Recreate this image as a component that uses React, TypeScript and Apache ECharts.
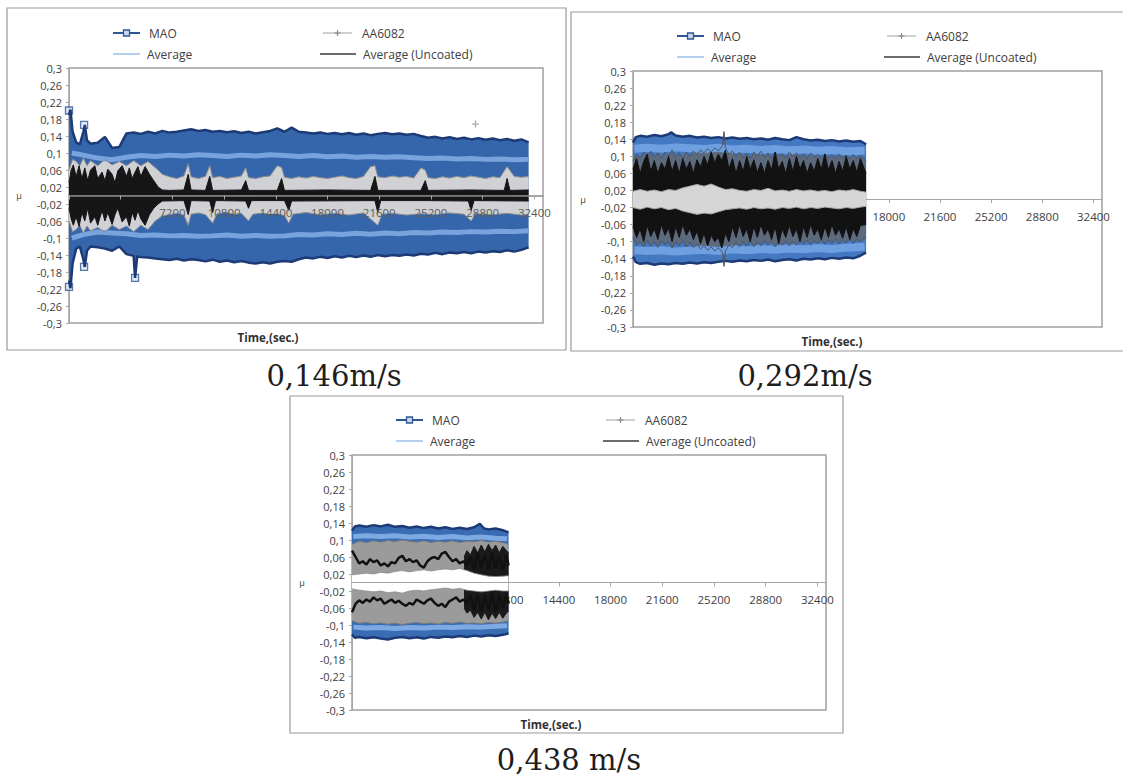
import React, { useEffect, useRef } from "react";
import * as echarts from "echarts";

// ---------------- texts & ticks ----------------
const CAPTIONS = ["0,146m/s", "0,292m/s", "0,438 m/s"];
const LEGEND_NAMES = ["MAO", "AA6082", "Average", "Average (Uncoated)"];
const X_TITLE = "Time,(sec.)";
const Y_TITLE = "μ";
const X_TICKS = [0, 3600, 7200, 10800, 14400, 18000, 21600, 25200, 28800, 32400];
const X_LABELS = [3600, 7200, 10800, 14400, 18000, 21600, 25200, 28800, 32400];
const X_LABELS_TL = [7200, 10800, 14400, 18000, 21600, 25200, 28800, 32400];
const Y_TICKS = [-0.3, -0.26, -0.22, -0.18, -0.14, -0.1, -0.06, -0.02, 0.02, 0.06, 0.1, 0.14, 0.18, 0.22, 0.26, 0.3];

// ---------------- 0,146 m/s (top-left) ----------------
const TL_MAO_UP = [[0,0.19],[100,0.202],[250,0.15],[500,0.125],[750,0.12],[1000,0.15],[1100,0.166],[1250,0.13],[1500,0.122],[2000,0.124],[2500,0.138],[3000,0.112],[3500,0.114],[4000,0.146],[4500,0.148],[5000,0.145],[5500,0.15],[6000,0.146],[6500,0.152],[7000,0.148],[7500,0.15],[8000,0.153],[8500,0.156],[9000,0.152],[9500,0.154],[10000,0.15],[10500,0.152],[11000,0.149],[11500,0.151],[12000,0.147],[12500,0.15],[13000,0.146],[13500,0.149],[14000,0.152],[14500,0.158],[15000,0.15],[15500,0.16],[16000,0.15],[16500,0.148],[17000,0.146],[17500,0.148],[18000,0.145],[18500,0.147],[19000,0.144],[19500,0.147],[20000,0.143],[20500,0.146],[21000,0.142],[21500,0.145],[22000,0.147],[22500,0.144],[23000,0.146],[23500,0.143],[24000,0.145],[24500,0.14],[25000,0.136],[25500,0.138],[26000,0.134],[26500,0.137],[27000,0.133],[27500,0.136],[28000,0.132],[28500,0.135],[29000,0.131],[29500,0.134],[30000,0.13],[30500,0.133],[31000,0.129],[31500,0.132],[32000,0.125]];
const TL_MAO_DN = [[0,-0.2],[100,-0.218],[250,-0.16],[500,-0.125],[750,-0.12],[1000,-0.15],[1100,-0.168],[1250,-0.13],[1500,-0.12],[2000,-0.122],[2500,-0.125],[3000,-0.13],[3500,-0.12],[4000,-0.138],[4500,-0.142],[4600,-0.194],[4750,-0.143],[5000,-0.145],[5500,-0.146],[6000,-0.148],[6500,-0.15],[7000,-0.152],[7500,-0.149],[8000,-0.153],[8500,-0.15],[9000,-0.152],[9500,-0.155],[10000,-0.151],[10500,-0.156],[11000,-0.153],[11500,-0.157],[12000,-0.154],[12500,-0.158],[13000,-0.16],[13500,-0.157],[14000,-0.16],[14500,-0.156],[15000,-0.154],[15500,-0.156],[16000,-0.15],[16500,-0.146],[17000,-0.148],[17500,-0.144],[18000,-0.147],[18500,-0.143],[19000,-0.146],[19500,-0.142],[20000,-0.145],[20500,-0.141],[21000,-0.144],[21500,-0.14],[22000,-0.143],[22500,-0.14],[23000,-0.142],[23500,-0.139],[24000,-0.141],[24500,-0.137],[25000,-0.139],[25500,-0.135],[26000,-0.138],[26500,-0.134],[27000,-0.136],[27500,-0.133],[28000,-0.136],[28500,-0.132],[29000,-0.134],[29500,-0.131],[30000,-0.133],[30500,-0.129],[31000,-0.132],[31500,-0.128],[32000,-0.122]];
const TL_AVG_UP = [[200,0.1],[1000,0.095],[2000,0.088],[3000,0.084],[4000,0.09],[5000,0.094],[6000,0.092],[7000,0.095],[8000,0.093],[9000,0.096],[10000,0.094],[11000,0.092],[12000,0.095],[13000,0.093],[14000,0.096],[15000,0.094],[16000,0.092],[17000,0.094],[18000,0.091],[19000,0.093],[20000,0.09],[21000,0.092],[22000,0.09],[23000,0.091],[24000,0.089],[25000,0.087],[26000,0.088],[27000,0.086],[28000,0.087],[29000,0.085],[30000,0.086],[31000,0.084],[32000,0.085]];
const TL_AVG_DN = [[200,-0.1],[1000,-0.092],[2000,-0.086],[3000,-0.088],[4000,-0.09],[5000,-0.094],[6000,-0.093],[7000,-0.095],[8000,-0.094],[9000,-0.096],[10000,-0.095],[11000,-0.093],[12000,-0.096],[13000,-0.094],[14000,-0.096],[15000,-0.095],[16000,-0.092],[17000,-0.093],[18000,-0.09],[19000,-0.092],[20000,-0.089],[21000,-0.091],[22000,-0.088],[23000,-0.09],[24000,-0.087],[25000,-0.088],[26000,-0.086],[27000,-0.087],[28000,-0.085],[29000,-0.086],[30000,-0.084],[31000,-0.085],[32000,-0.083]];
const TL_AA_UP = [[0,0.06],[250,0.085],[500,0.08],[750,0.07],[1000,0.088],[1250,0.07],[1500,0.082],[2000,0.07],[2500,0.085],[3000,0.072],[3500,0.08],[4000,0.07],[4500,0.082],[5000,0.07],[5500,0.08],[6000,0.066],[6500,0.05],[7000,0.044],[7500,0.04],[8000,0.046],[8300,0.075],[8500,0.044],[9000,0.04],[9500,0.045],[9800,0.07],[10000,0.042],[10500,0.045],[11000,0.04],[11500,0.043],[12000,0.046],[12300,0.065],[12500,0.042],[13000,0.04],[13500,0.044],[14000,0.046],[14500,0.07],[14800,0.066],[15000,0.043],[15500,0.04],[16000,0.044],[16500,0.041],[17000,0.045],[17500,0.042],[18000,0.04],[18500,0.043],[19000,0.046],[19500,0.042],[20000,0.04],[20500,0.045],[21000,0.068],[21300,0.07],[21500,0.044],[22000,0.042],[22500,0.046],[23000,0.043],[23500,0.045],[24000,0.041],[24500,0.065],[24800,0.06],[25000,0.042],[25500,0.04],[26000,0.044],[26500,0.041],[27000,0.045],[27500,0.042],[28000,0.046],[28500,0.043],[29000,0.04],[29500,0.044],[30000,0.042],[30500,0.068],[31000,0.045],[31500,0.043],[32000,0.045]];
const TL_AA_DN = [[0,-0.06],[250,-0.085],[500,-0.08],[750,-0.07],[1000,-0.088],[1250,-0.072],[1500,-0.083],[2000,-0.075],[2500,-0.086],[3000,-0.07],[3500,-0.08],[4000,-0.072],[4500,-0.085],[5000,-0.07],[5500,-0.08],[6000,-0.06],[6500,-0.048],[7000,-0.045],[7500,-0.042],[8000,-0.046],[8300,-0.07],[8500,-0.044],[9000,-0.041],[9500,-0.045],[10000,-0.065],[10300,-0.043],[11000,-0.04],[11500,-0.044],[12000,-0.042],[12500,-0.06],[12800,-0.044],[13500,-0.041],[14000,-0.045],[14500,-0.043],[15000,-0.047],[15300,-0.065],[15600,-0.044],[16500,-0.04],[17500,-0.045],[18500,-0.042],[19500,-0.046],[20500,-0.041],[21500,-0.07],[21800,-0.044],[22500,-0.042],[23500,-0.046],[24500,-0.043],[25500,-0.045],[26500,-0.041],[27500,-0.044],[28000,-0.06],[28300,-0.043],[29500,-0.045],[30500,-0.042],[31500,-0.046],[32000,-0.045]];
const TL_UNC_UP = [[0,0.03],[150,0.06],[300,0.072],[500,0.045],[700,0.07],[900,0.04],[1100,0.065],[1300,0.035],[1500,0.06],[1800,0.07],[2000,0.04],[2300,0.055],[2500,0.035],[2700,0.062],[3000,0.05],[3200,0.03],[3400,0.058],[3700,0.07],[4000,0.045],[4200,0.065],[4400,0.04],[4600,0.055],[4800,0.068],[5000,0.045],[5300,0.068],[5600,0.05],[5900,0.035],[6200,0.02],[6500,0.013],[7000,0.012],[8000,0.013],[8300,0.05],[8500,0.013],[9500,0.012],[9800,0.045],[10000,0.012],[12000,0.013],[12300,0.035],[12500,0.012],[14500,0.012],[14800,0.04],[15000,0.012],[18000,0.013],[21000,0.012],[21300,0.045],[21500,0.012],[24500,0.012],[24800,0.035],[25000,0.012],[28000,0.013],[30300,0.012],[30500,0.04],[30700,0.012],[32000,0.013]];
const TL_UNC_DN = [[0,-0.03],[150,-0.055],[300,-0.07],[500,-0.05],[700,-0.073],[900,-0.04],[1100,-0.06],[1300,-0.03],[1500,-0.065],[1800,-0.05],[2000,-0.07],[2300,-0.035],[2500,-0.06],[2700,-0.04],[3000,-0.068],[3200,-0.045],[3400,-0.03],[3700,-0.062],[4000,-0.05],[4200,-0.072],[4400,-0.04],[4600,-0.058],[4800,-0.035],[5000,-0.055],[5300,-0.07],[5600,-0.045],[5900,-0.03],[6200,-0.02],[6500,-0.013],[8000,-0.012],[8300,-0.045],[8500,-0.012],[9800,-0.013],[10000,-0.04],[10200,-0.012],[12300,-0.013],[12500,-0.03],[12700,-0.012],[15000,-0.012],[15300,-0.035],[15500,-0.013],[21300,-0.012],[21500,-0.04],[21700,-0.012],[25000,-0.012],[27800,-0.013],[28000,-0.035],[28200,-0.012],[32000,-0.013]];
const TL_MAO_MARKS = [[0,0.2],[0,-0.215],[1050,0.166],[1050,-0.168],[4600,-0.194]];
const TL_AA_MARKS = [[28300,0.168]];

// ---------------- 0,292 m/s (top-right) ----------------
const TR_MAO_UP = [[0,0.132],[200,0.145],[500,0.148],[1000,0.146],[1500,0.15],[2000,0.147],[2500,0.152],[2700,0.156],[3000,0.149],[3500,0.146],[4000,0.148],[4500,0.144],[5000,0.146],[5500,0.143],[6000,0.145],[6500,0.142],[7000,0.144],[7500,0.141],[8000,0.143],[8500,0.14],[9000,0.142],[9500,0.139],[10000,0.143],[10500,0.14],[11000,0.138],[11500,0.145],[12000,0.14],[12500,0.137],[13000,0.139],[13500,0.136],[14000,0.138],[14500,0.135],[15000,0.137],[15500,0.134],[16000,0.136],[16400,0.128]];
const TR_MAO_DN = [[0,-0.135],[200,-0.148],[500,-0.152],[1000,-0.15],[1500,-0.154],[2000,-0.151],[2500,-0.153],[3000,-0.15],[3500,-0.152],[4000,-0.149],[4500,-0.151],[5000,-0.148],[5500,-0.15],[6000,-0.147],[6500,-0.145],[7000,-0.147],[7500,-0.144],[8000,-0.146],[8500,-0.143],[9000,-0.145],[9500,-0.142],[10000,-0.146],[10500,-0.143],[11000,-0.141],[11500,-0.144],[12000,-0.14],[12500,-0.142],[13000,-0.139],[13500,-0.141],[14000,-0.138],[14500,-0.14],[15000,-0.137],[15500,-0.139],[16000,-0.133],[16400,-0.125]];
const TR_AVG_UP = [[100,0.118],[1000,0.12],[2000,0.118],[3000,0.121],[4000,0.119],[5000,0.117],[6000,0.12],[7000,0.116],[8000,0.118],[9000,0.115],[10000,0.117],[11000,0.114],[12000,0.116],[13000,0.113],[14000,0.115],[15000,0.112],[16300,0.113]];
const TR_AVG_DN = [[100,-0.12],[1000,-0.122],[2000,-0.12],[3000,-0.123],[4000,-0.121],[5000,-0.119],[6000,-0.122],[7000,-0.118],[8000,-0.12],[9000,-0.117],[10000,-0.119],[11000,-0.116],[12000,-0.118],[13000,-0.115],[14000,-0.117],[15000,-0.114],[16300,-0.112]];
const TR_AA_UP = [[0,0.09],[250,0.105],[500,0.095],[750,0.11],[1000,0.1],[1250,0.112],[1500,0.098],[1750,0.108],[2000,0.095],[2250,0.11],[2500,0.1],[2750,0.115],[3000,0.098],[3250,0.108],[3500,0.096],[3750,0.11],[4000,0.1],[4250,0.112],[4500,0.104],[4750,0.115],[5000,0.108],[5250,0.118],[5500,0.11],[5750,0.12],[6000,0.112],[6300,0.125],[6400,0.158],[6500,0.12],[6750,0.105],[7000,0.112],[7250,0.1],[7500,0.11],[7750,0.097],[8000,0.108],[8250,0.095],[8500,0.11],[8750,0.1],[9000,0.112],[9250,0.098],[9500,0.108],[9750,0.095],[10000,0.11],[10250,0.1],[10500,0.106],[10750,0.096],[11000,0.11],[11250,0.1],[11500,0.108],[11750,0.097],[12000,0.106],[12250,0.095],[12500,0.108],[12750,0.098],[13000,0.105],[13250,0.094],[13500,0.106],[13750,0.096],[14000,0.104],[14250,0.094],[14500,0.105],[14750,0.095],[15000,0.103],[15250,0.094],[15500,0.104],[15750,0.095],[16000,0.102],[16400,0.09]];
const TR_AA_DN = [[0,-0.09],[250,-0.108],[500,-0.1],[750,-0.112],[1000,-0.098],[1250,-0.11],[1500,-0.1],[1750,-0.113],[2000,-0.097],[2250,-0.108],[2500,-0.1],[2750,-0.115],[3000,-0.1],[3250,-0.11],[3500,-0.098],[3750,-0.112],[4000,-0.102],[4250,-0.114],[4500,-0.106],[4750,-0.117],[5000,-0.11],[5250,-0.12],[5500,-0.112],[5750,-0.122],[6000,-0.114],[6300,-0.125],[6400,-0.158],[6500,-0.122],[6750,-0.108],[7000,-0.114],[7250,-0.102],[7500,-0.112],[7750,-0.1],[8000,-0.11],[8250,-0.098],[8500,-0.112],[8750,-0.1],[9000,-0.11],[9250,-0.098],[9500,-0.108],[9750,-0.097],[10000,-0.112],[10250,-0.1],[10500,-0.108],[10750,-0.098],[11000,-0.11],[11250,-0.1],[11500,-0.108],[11750,-0.097],[12000,-0.106],[12250,-0.096],[12500,-0.108],[12750,-0.098],[13000,-0.105],[13250,-0.095],[13500,-0.106],[13750,-0.096],[14000,-0.104],[14250,-0.094],[14500,-0.105],[14750,-0.095],[15000,-0.103],[15250,-0.094],[15500,-0.104],[15750,-0.095],[16000,-0.1],[16400,-0.09]];
const TR_UNC_UP = [[0,0.07],[250,0.095],[500,0.06],[750,0.088],[1000,0.105],[1250,0.065],[1500,0.09],[1750,0.06],[2000,0.085],[2250,0.07],[2500,0.1],[2750,0.065],[3000,0.09],[3250,0.06],[3500,0.095],[3750,0.07],[4000,0.088],[4250,0.06],[4500,0.092],[4750,0.075],[5000,0.1],[5250,0.08],[5500,0.11],[5750,0.085],[6000,0.105],[6250,0.09],[6500,0.115],[6750,0.07],[7000,0.095],[7250,0.06],[7500,0.09],[7750,0.065],[8000,0.1],[8250,0.07],[8500,0.092],[8750,0.062],[9000,0.085],[9250,0.06],[9500,0.09],[9750,0.068],[10000,0.11],[10250,0.07],[10500,0.088],[10750,0.06],[11000,0.095],[11250,0.065],[11500,0.1],[11750,0.07],[12000,0.09],[12250,0.06],[12500,0.085],[12750,0.065],[13000,0.095],[13250,0.07],[13500,0.105],[13750,0.068],[14000,0.09],[14250,0.06],[14500,0.088],[14750,0.065],[15000,0.1],[15250,0.07],[15500,0.09],[15750,0.062],[16000,0.095],[16400,0.06]];
const TR_UNC_DN = [[0,-0.065],[250,-0.09],[500,-0.07],[750,-0.1],[1000,-0.062],[1250,-0.088],[1500,-0.07],[1750,-0.095],[2000,-0.06],[2250,-0.085],[2500,-0.068],[2750,-0.1],[3000,-0.065],[3250,-0.09],[3500,-0.06],[3750,-0.085],[4000,-0.07],[4250,-0.095],[4500,-0.075],[4750,-0.105],[5000,-0.08],[5250,-0.11],[5500,-0.085],[5750,-0.1],[6000,-0.09],[6250,-0.115],[6500,-0.08],[6750,-0.1],[7000,-0.065],[7250,-0.09],[7500,-0.06],[7750,-0.088],[8000,-0.07],[8250,-0.1],[8500,-0.065],[8750,-0.09],[9000,-0.06],[9250,-0.085],[9500,-0.07],[9750,-0.095],[10000,-0.065],[10250,-0.105],[10500,-0.07],[10750,-0.09],[11000,-0.062],[11250,-0.088],[11500,-0.07],[11750,-0.1],[12000,-0.065],[12250,-0.09],[12500,-0.06],[12750,-0.085],[13000,-0.07],[13250,-0.095],[13500,-0.065],[13750,-0.09],[14000,-0.06],[14250,-0.085],[14500,-0.07],[14750,-0.092],[15000,-0.065],[15250,-0.095],[15500,-0.07],[15750,-0.088],[16000,-0.062],[16400,-0.06]];
const TR_CORE_UP = [[0,0.018],[500,0.022],[1000,0.018],[1500,0.021],[2000,0.017],[2500,0.022],[3000,0.02],[3500,0.026],[4000,0.03],[4500,0.034],[5000,0.03],[5500,0.035],[6000,0.028],[6500,0.022],[7000,0.024],[7500,0.02],[8000,0.018],[8500,0.022],[9000,0.02],[9500,0.025],[10000,0.019],[10500,0.021],[11000,0.018],[11500,0.022],[12000,0.019],[12500,0.021],[13000,0.018],[13500,0.02],[14000,0.017],[14500,0.021],[15000,0.019],[15500,0.022],[16000,0.018],[16400,0.016]];
const TR_CORE_DN = [[0,-0.02],[500,-0.024],[1000,-0.019],[1500,-0.023],[2000,-0.02],[2500,-0.025],[3000,-0.022],[3500,-0.028],[4000,-0.032],[4500,-0.036],[5000,-0.033],[5500,-0.035],[6000,-0.03],[6500,-0.025],[7000,-0.023],[7500,-0.021],[8000,-0.024],[8500,-0.02],[9000,-0.023],[9500,-0.021],[10000,-0.024],[10500,-0.02],[11000,-0.022],[11500,-0.019],[12000,-0.023],[12500,-0.02],[13000,-0.022],[13500,-0.019],[14000,-0.021],[14500,-0.023],[15000,-0.02],[15500,-0.022],[16000,-0.019],[16400,-0.017]];

// ---------------- 0,438 m/s (bottom) ----------------
const B_MAO_UP = [[0,0.122],[200,0.132],[500,0.134],[1000,0.131],[1500,0.135],[2000,0.132],[2500,0.136],[3000,0.131],[3500,0.133],[4000,0.129],[4500,0.132],[5000,0.128],[5500,0.131],[6000,0.127],[6500,0.13],[7000,0.126],[7500,0.129],[8000,0.126],[8500,0.13],[8900,0.138],[9200,0.127],[9500,0.125],[10000,0.127],[10500,0.123],[10900,0.118]];
const B_MAO_DN = [[0,-0.122],[200,-0.13],[500,-0.128],[1000,-0.131],[1500,-0.129],[2000,-0.132],[2500,-0.134],[3000,-0.13],[3500,-0.128],[4000,-0.131],[4500,-0.129],[5000,-0.132],[5500,-0.128],[6000,-0.13],[6500,-0.127],[7000,-0.129],[7500,-0.126],[8000,-0.128],[8500,-0.125],[9000,-0.127],[9500,-0.124],[10000,-0.126],[10500,-0.123],[10900,-0.12]];
const B_AVG_UP = [[100,0.108],[1000,0.11],[2000,0.108],[3000,0.11],[4000,0.107],[5000,0.109],[6000,0.106],[7000,0.108],[8000,0.105],[9000,0.107],[10000,0.104],[10800,0.103]];
const B_AVG_DN = [[100,-0.105],[1000,-0.107],[2000,-0.106],[3000,-0.108],[4000,-0.106],[5000,-0.107],[6000,-0.105],[7000,-0.106],[8000,-0.104],[9000,-0.105],[10000,-0.103],[10800,-0.102]];
const B_AA_TIME = [0,500,1000,1500,2000,2500,3000,3500,4000,4500,5000,5500,6000,6500,7000,7500,8000,8500,9000,9500,10000,10500,10900];
const B_AA_OUT_UP = [0.09,0.097,0.094,0.098,0.095,0.099,0.096,0.1,0.097,0.095,0.098,0.094,0.097,0.095,0.098,0.094,0.097,0.096,0.099,0.095,0.097,0.094,0.09];
const B_AA_OUT_DN = [-0.09,-0.096,-0.094,-0.097,-0.095,-0.098,-0.096,-0.099,-0.096,-0.094,-0.097,-0.095,-0.098,-0.094,-0.096,-0.093,-0.096,-0.095,-0.097,-0.094,-0.096,-0.093,-0.09];
const B_GAP_UP = [0.018,0.02,0.022,0.02,0.024,0.022,0.026,0.028,0.025,0.028,0.03,0.027,0.03,0.032,0.03,0.033,0.028,0.022,0.018,0.015,0.014,0.015,0.016];
const B_GAP_DN = [-0.015,-0.018,-0.02,-0.022,-0.02,-0.024,-0.022,-0.025,-0.02,-0.018,-0.02,-0.017,-0.015,-0.013,-0.016,-0.014,-0.018,-0.02,-0.022,-0.02,-0.018,-0.02,-0.02];
const B_DENSE_UP = [[7800,0.06],[8000,0.075],[8250,0.065],[8500,0.085],[8750,0.07],[9000,0.088],[9250,0.072],[9500,0.09],[9750,0.075],[10000,0.088],[10250,0.07],[10500,0.085],[10750,0.075],[10900,0.07]];
const B_DENSE_DN = [[7800,-0.06],[8000,-0.072],[8250,-0.065],[8500,-0.082],[8750,-0.07],[9000,-0.086],[9250,-0.07],[9500,-0.088],[9750,-0.072],[10000,-0.085],[10250,-0.07],[10500,-0.084],[10750,-0.072],[10900,-0.068]];
const B_UNC_UP = [[0,0.075],[250,0.06],[500,0.045],[750,0.05],[1000,0.042],[1250,0.055],[1500,0.048],[1750,0.052],[2000,0.04],[2250,0.045],[2500,0.038],[2750,0.048],[3000,0.045],[3250,0.058],[3500,0.063],[3750,0.05],[4000,0.055],[4250,0.048],[4500,0.052],[4750,0.04],[5000,0.035],[5250,0.05],[5500,0.057],[5750,0.06],[6000,0.055],[6250,0.068],[6500,0.072],[6750,0.06],[7000,0.05],[7250,0.055],[7500,0.045],[7750,0.05],[8000,0.04],[8250,0.06],[8500,0.03],[8750,0.07],[9000,0.035],[9250,0.065],[9500,0.03],[9750,0.07],[10000,0.035],[10250,0.06],[10500,0.03],[10750,0.065],[10900,0.04]];
const B_UNC_DN = [[0,-0.07],[250,-0.05],[500,-0.042],[750,-0.048],[1000,-0.04],[1250,-0.045],[1500,-0.035],[1750,-0.042],[2000,-0.038],[2250,-0.05],[2500,-0.045],[2750,-0.04],[3000,-0.048],[3250,-0.043],[3500,-0.05],[3750,-0.055],[4000,-0.048],[4250,-0.052],[4500,-0.04],[4750,-0.045],[5000,-0.05],[5250,-0.042],[5500,-0.038],[5750,-0.048],[6000,-0.055],[6250,-0.05],[6500,-0.058],[6750,-0.045],[7000,-0.04],[7250,-0.035],[7500,-0.045],[7750,-0.04],[8000,-0.05],[8250,-0.03],[8500,-0.065],[8750,-0.028],[9000,-0.07],[9250,-0.03],[9500,-0.065],[9750,-0.025],[10000,-0.07],[10250,-0.03],[10500,-0.06],[10750,-0.028],[10900,-0.05]];

// ---------------- layout (not data) ----------------
const PANELS = [
  { frame: [7, 8, 559, 342], grid: [69, 68, 474, 255], caption: [334, 376] },
  { frame: [571, 12, 560, 339], grid: [633, 71, 469, 256], caption: [805, 376] },
  { frame: [290, 396, 553, 337], grid: [352, 455, 474, 255], caption: [569, 760] },
];

const FONT = '"Open Sans", "Liberation Sans", sans-serif';
const NAVY = "#1c3a75";
const TXT = "#404040";

const yFmt = (v: number) => String(Math.round(v * 100) / 100).replace(".", ",");
const pairs = (times: number[], vals: number[]) => times.map((t, i) => [t, vals[i]]);

function area(name: string, gi: number, data: number[][], fill: string, edge: string, w: number, extra: any = {}) {
  return {
    type: "line", name, xAxisIndex: gi, yAxisIndex: gi, data, symbol: "none", silent: true,
    lineStyle: { color: edge, width: w }, areaStyle: { color: fill, opacity: 1 }, ...extra,
  };
}
function line(name: string, gi: number, data: number[][], color: string, w: number) {
  return {
    type: "line", name, xAxisIndex: gi, yAxisIndex: gi, data, symbol: "none", silent: true,
    lineStyle: { color, width: w },
  };
}

function legendGraphics(L: number, T: number) {
  const r1 = T - 35, r2 = T - 14;
  const txt = (x: number, y: number, s: string) => ({
    type: "text", x, y, silent: true,
    style: { text: s, fill: TXT, font: `12px ${FONT}`, textVerticalAlign: "middle", verticalAlign: "middle" },
  });
  return [
    { type: "line", silent: true, shape: { x1: L + 44, y1: r1, x2: L + 71, y2: r1 }, style: { stroke: "#2f5597", lineWidth: 2 } },
    { type: "rect", silent: true, shape: { x: L + 54.5, y: r1 - 3, width: 6, height: 6 }, style: { fill: "#c9d8ee", stroke: "#2f5597", lineWidth: 1.3 } },
    txt(L + 80, r1, LEGEND_NAMES[0]),
    { type: "line", silent: true, shape: { x1: L + 254, y1: r1, x2: L + 283, y2: r1 }, style: { stroke: "#b0b0b0", lineWidth: 1.2 } },
    { type: "line", silent: true, shape: { x1: L + 268.5, y1: r1 - 3, x2: L + 268.5, y2: r1 + 3 }, style: { stroke: "#8c8c8c", lineWidth: 1.2 } },
    { type: "line", silent: true, shape: { x1: L + 265.5, y1: r1, x2: L + 271.5, y2: r1 }, style: { stroke: "#8c8c8c", lineWidth: 1.2 } },
    txt(L + 293, r1, LEGEND_NAMES[1]),
    { type: "line", silent: true, shape: { x1: L + 44, y1: r2, x2: L + 71, y2: r2 }, style: { stroke: "#9dc0e8", lineWidth: 1.5 } },
    txt(L + 78, r2, LEGEND_NAMES[2]),
    { type: "line", silent: true, shape: { x1: L + 251, y1: r2, x2: L + 287, y2: r2 }, style: { stroke: "#3a3a3a", lineWidth: 1.5 } },
    txt(L + 294, r2, LEGEND_NAMES[3]),
  ];
}

function buildOption() {
  const grid = PANELS.map((p) => ({
    left: p.grid[0], top: p.grid[1], width: p.grid[2], height: p.grid[3],
    show: true, borderColor: "#a0a0a0", borderWidth: 1.5, backgroundColor: "transparent", containLabel: false,
  }));
  // x axis drawn along the zero line (middle of the symmetric value range)
  const xAxis = PANELS.map((p, i) => ({
    type: "value", gridIndex: i, min: 0, max: 33000, position: "bottom", offset: -p.grid[3] / 2, z: i === 0 ? 5 : 0,
    axisLine: { show: true, onZero: false, lineStyle: { color: i === 0 ? "#8a8a8a" : "#a6a6a6", width: i === 0 ? 1.5 : 1 } },
    axisTick: { show: true, length: 4, customValues: X_TICKS, lineStyle: { color: "#a6a6a6" } },
    axisLabel: {
      customValues: i === 0 ? X_LABELS_TL : X_LABELS, formatter: (v: number) => String(v),
      fontSize: 11.5, color: i === 0 ? "#5a5a5a" : TXT, fontFamily: FONT, margin: 11,
    },
    splitLine: { show: false },
  }));
  const yAxis = PANELS.map((_, i) => ({
    type: "value", gridIndex: i, min: -0.3, max: 0.3,
    axisLine: { show: true, onZero: false, lineStyle: { color: "#a6a6a6" } },
    axisTick: { show: true, length: 3, customValues: Y_TICKS, lineStyle: { color: "#a6a6a6" } },
    axisLabel: { customValues: Y_TICKS, formatter: yFmt, fontSize: 11, color: TXT, fontFamily: FONT, margin: 7 },
    splitLine: { show: false },
  }));

  const [mao, aa, avg, unc] = LEGEND_NAMES;
  const zeroLine = {
    markLine: {
      silent: true, symbol: "none", label: { show: false },
      lineStyle: { color: "#a6a6a6", width: 1, type: "solid" }, data: [{ yAxis: 0 }],
    },
  };
  const series: any[] = [
    // top-left
    area(mao, 0, TL_MAO_UP, "#3565aa", NAVY, 2.5),
    area(mao, 0, TL_MAO_DN, "#3565aa", NAVY, 2.5),
    line(avg, 0, TL_AVG_UP, "#79a3dc", 5),
    line(avg, 0, TL_AVG_DN, "#79a3dc", 5),
    area(aa, 0, TL_AA_UP, "#cfd1d4", "#8e8e8e", 1),
    area(aa, 0, TL_AA_DN, "#cfd1d4", "#8e8e8e", 1),
    area(unc, 0, TL_UNC_UP, "#161616", "#161616", 1),
    area(unc, 0, TL_UNC_DN, "#161616", "#161616", 1),
    {
      type: "scatter", name: mao, xAxisIndex: 0, yAxisIndex: 0, data: TL_MAO_MARKS, symbol: "rect", symbolSize: 7, silent: true,
      itemStyle: { color: "#dbe5f3", borderColor: "#2f5597", borderWidth: 1.3 },
    },
    {
      type: "scatter", name: aa, xAxisIndex: 0, yAxisIndex: 0, data: TL_AA_MARKS, symbol: "path://M4,0H6V4H10V6H6V10H4V6H0V4H4Z", symbolSize: 7, silent: true,
      itemStyle: { color: "#9a9a9a" },
    },
    // top-right
    area(mao, 1, TR_MAO_UP, "#4479c2", NAVY, 2.5),
    area(mao, 1, TR_MAO_DN, "#4479c2", NAVY, 2.5),
    line(avg, 1, TR_AVG_UP, "#6e9fe0", 8),
    line(avg, 1, TR_AVG_DN, "#6e9fe0", 8),
    area(aa, 1, TR_AA_UP, "#5d6a7e", "#4a5566", 1),
    area(aa, 1, TR_AA_DN, "#5d6a7e", "#4a5566", 1),
    area(unc, 1, TR_UNC_UP, "#121212", "#121212", 1),
    area(unc, 1, TR_UNC_DN, "#121212", "#121212", 1),
    area(aa, 1, TR_CORE_UP, "#d6d6d6", "#a8a8a8", 1),
    area(aa, 1, TR_CORE_DN, "#d6d6d6", "#a8a8a8", 1),
    // bottom
    area(mao, 2, B_MAO_UP, "#3a6cb4", NAVY, 2.5),
    area(mao, 2, B_MAO_DN, "#3a6cb4", NAVY, 2.5),
    line(avg, 2, B_AVG_UP, "#7eaae3", 5),
    line(avg, 2, B_AVG_DN, "#7eaae3", 5),
    area(aa, 2, pairs(B_AA_TIME, B_AA_OUT_UP), "#9b9b9b", "#7a7a7a", 1),
    area(aa, 2, pairs(B_AA_TIME, B_AA_OUT_DN), "#9b9b9b", "#7a7a7a", 1),
    area(unc, 2, B_DENSE_UP, "#1a1a1a", "#1a1a1a", 1),
    area(unc, 2, B_DENSE_DN, "#1a1a1a", "#1a1a1a", 1),
    line(unc, 2, B_UNC_UP, "#111111", 2.5),
    line(unc, 2, B_UNC_DN, "#111111", 2.5),
    // clear gap between the two friction traces around zero
    area(aa, 2, pairs(B_AA_TIME, B_GAP_UP), "#ffffff", "#8a8a8a", 0.8),
    area(aa, 2, pairs(B_AA_TIME, B_GAP_DN), "#ffffff", "#8a8a8a", 0.8, zeroLine),
  ];

  const graphic: any[] = [];
  PANELS.forEach((p, i) => {
    const [fx, fy, fw, fh] = p.frame;
    const [L, T, W, H] = p.grid;
    graphic.push({ type: "rect", silent: true, z: -1, shape: { x: fx, y: fy, width: fw, height: fh }, style: { fill: "none", stroke: "#9a9a9a", lineWidth: 1.2 } });
    graphic.push(...legendGraphics(L, T));
    graphic.push({
      type: "text", silent: true, x: L + 199, y: T + H + 14,
      style: { text: X_TITLE, fill: "#303030", font: `bold 11.5px ${FONT}`, textAlign: "center", align: "center", textVerticalAlign: "middle", verticalAlign: "middle" },
    });
    graphic.push({
      type: "text", silent: true, x: L - 50, y: T + H / 2,
      style: { text: Y_TITLE, fill: "#404040", font: `9px ${FONT}`, textAlign: "center", align: "center", textVerticalAlign: "middle", verticalAlign: "middle" },
    });
    graphic.push({
      type: "text", silent: true, x: p.caption[0], y: p.caption[1],
      style: { text: CAPTIONS[i], fill: "#1e1e1e", font: `29px "DejaVu Serif", serif`, textAlign: "center", align: "center", textVerticalAlign: "middle", verticalAlign: "middle" },
    });
  });

  return { animation: false, backgroundColor: "#ffffff", grid, xAxis, yAxis, series, graphic };
}

export default function App() {
  const ref = useRef<HTMLDivElement>(null);
  useEffect(() => {
    if (!ref.current) return;
    const chart = echarts.init(ref.current, undefined, { renderer: "svg" });
    chart.setOption(buildOption() as any);
    return () => chart.dispose();
  }, []);
  return <div ref={ref} style={{ position: "absolute", left: 0, top: 0, width: 1123, height: 778, background: "#fff" }} />;
}
